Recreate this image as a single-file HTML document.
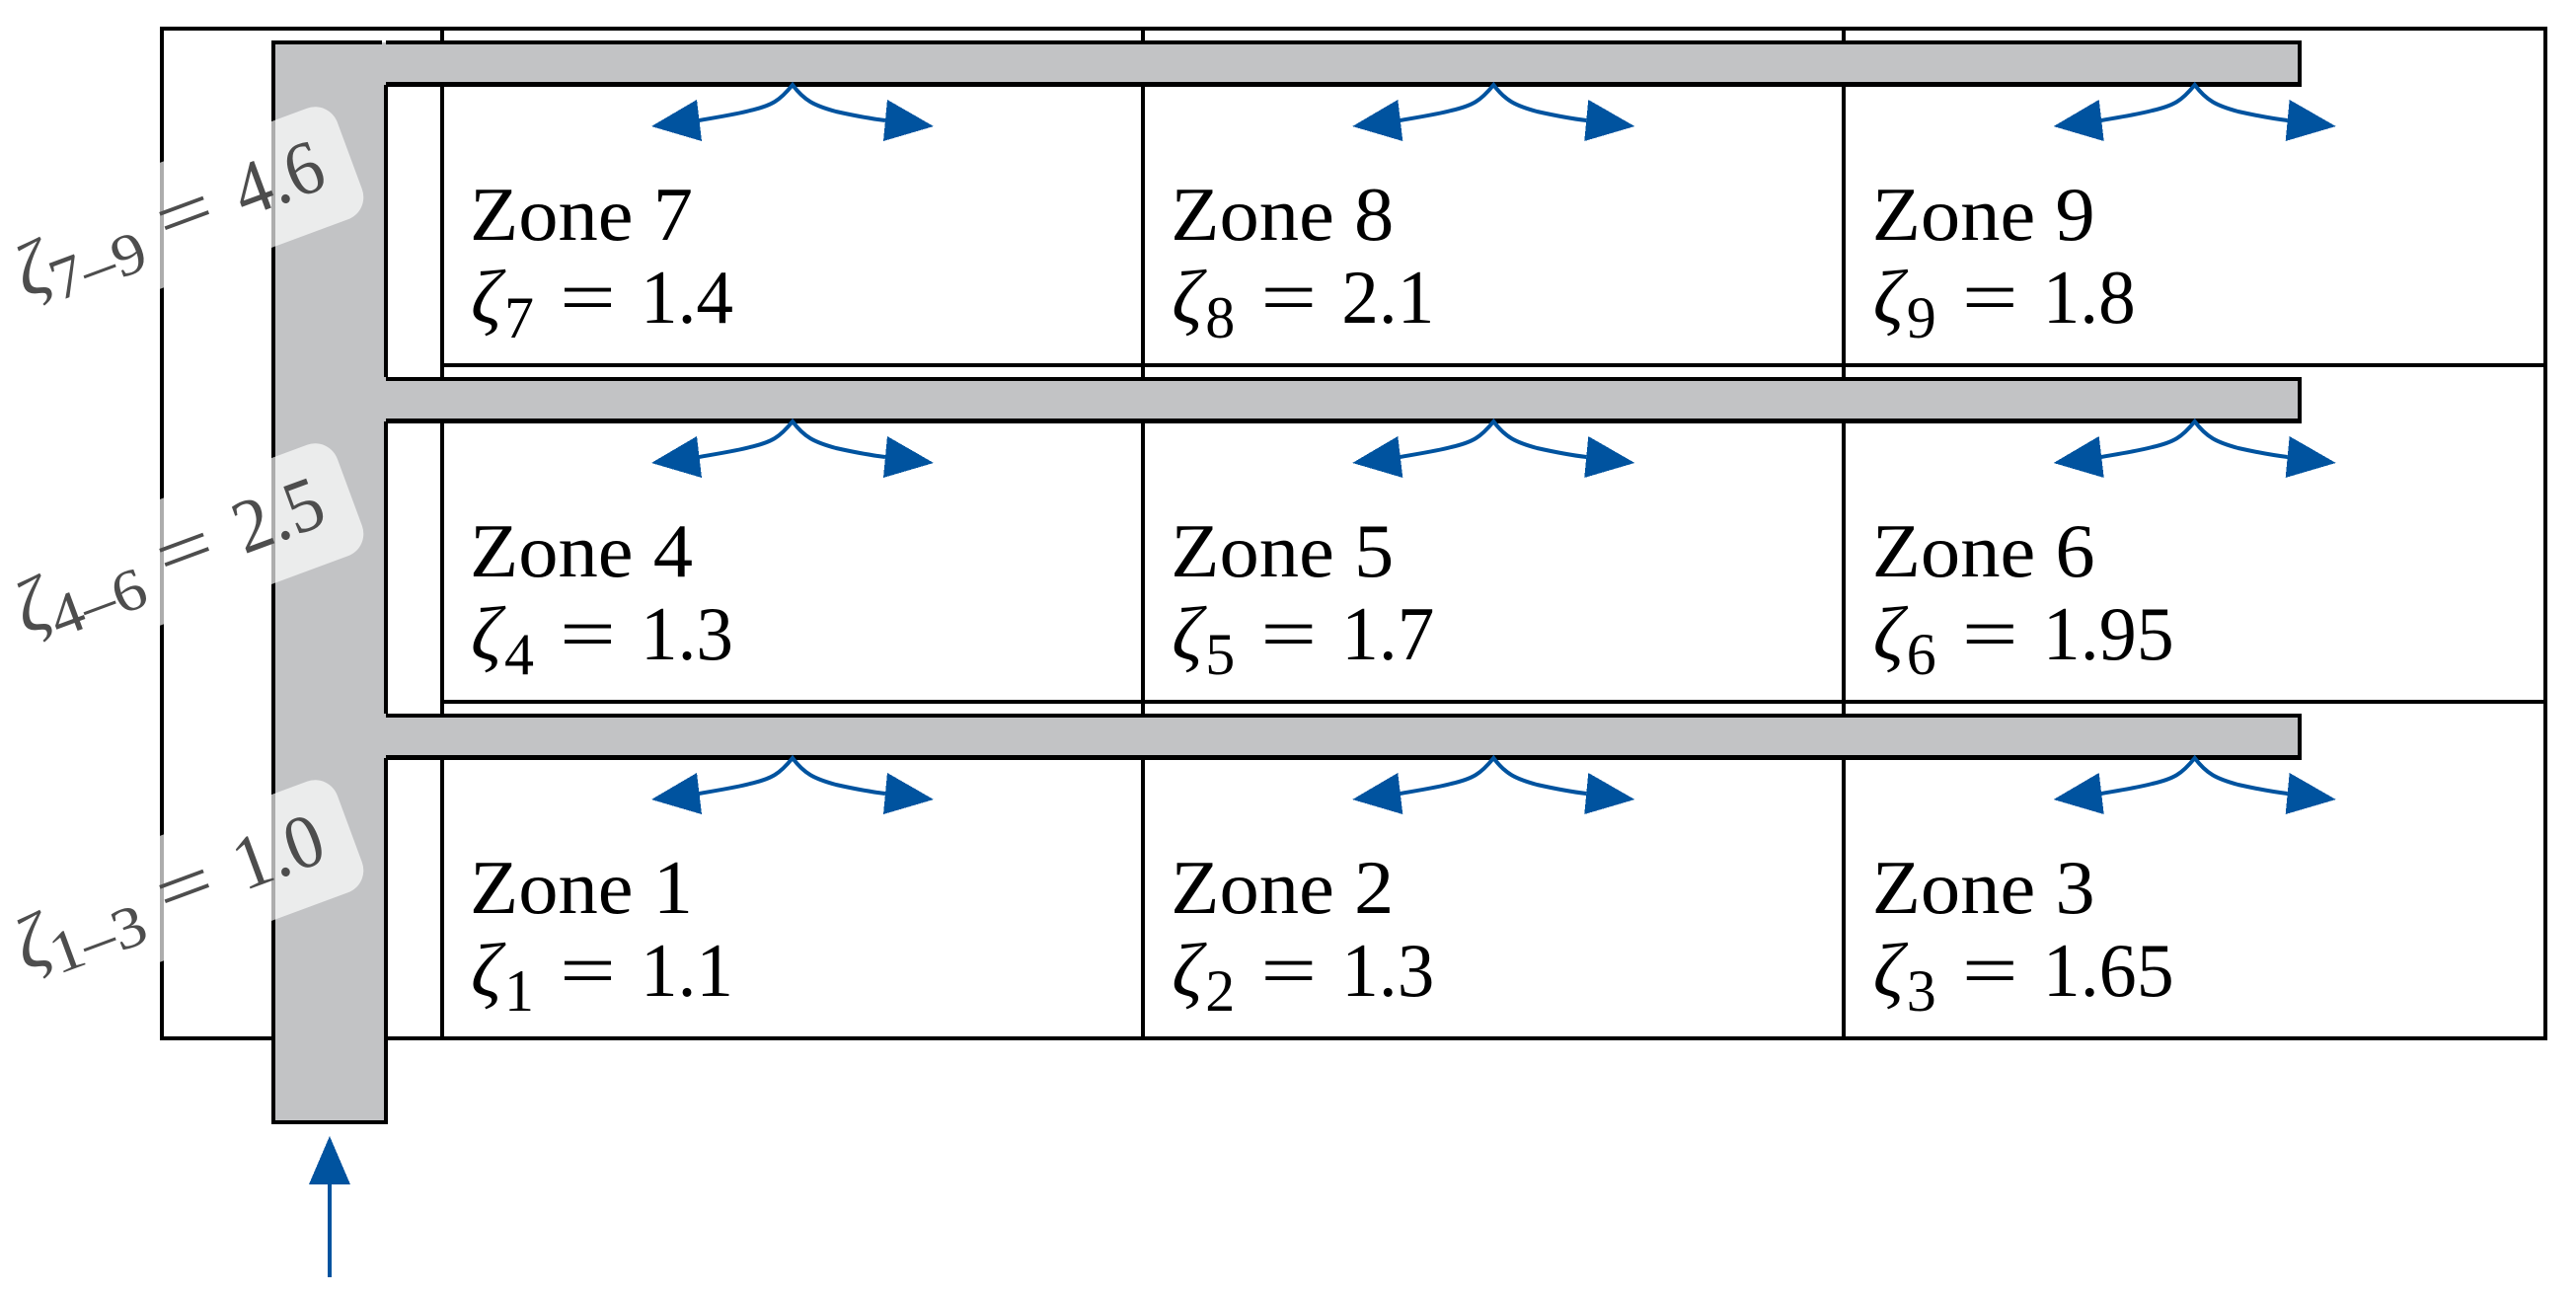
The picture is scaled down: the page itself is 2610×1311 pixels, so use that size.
<!DOCTYPE html>
<html><head><meta charset="utf-8"><style>
html,body{margin:0;padding:0;background:#fff}
svg{display:block}
text{font-family:"Liberation Serif",serif;font-size:77px;fill:#000}
.g{font-style:italic}
.s{font-size:60px}
.l text{fill:#4d4d4d}
.c{shape-rendering:crispEdges}
</style></head><body>
<svg width="2610" height="1311" viewBox="0 0 2610 1311" xmlns="http://www.w3.org/2000/svg">
<defs>
<g id="a">
<path d="M708 122C725 119 745 116 760 112C782 107 790 102 803 86C815 102 825 107 847 113C865 117 880 120 897 122" fill="none" stroke="#00539f" stroke-width="4"/>
<polygon class="c" points="660,128 706,101 711,143" fill="#00539f"/>
<polygon class="c" points="946,128 899,101 895,143" fill="#00539f"/>
</g>
</defs>
<g class="c" fill="#000">
<rect x="162" y="27" width="2419" height="4"/>
<rect x="162" y="1050" width="2419" height="4"/>
<rect x="162" y="27" width="4" height="1027"/>
<rect x="2577" y="27" width="4" height="1027"/>
<rect x="446" y="27" width="4" height="1027"/>
<rect x="1156" y="27" width="4" height="1027"/>
<rect x="1866" y="27" width="4" height="1027"/>
<rect x="448" y="368" width="2133" height="4"/>
<rect x="448" y="709" width="2133" height="4"/>
<path fill="#c2c3c5" d="M277 1137V43H2330V85H391V384H2330V426H391V725H2330V767H391V1137Z"/>
<rect x="275" y="41" width="112" height="4"/>
<rect x="391" y="41" width="1941" height="4"/>
<rect x="391" y="83" width="1941" height="5"/>
<rect x="391" y="382" width="1941" height="4"/>
<rect x="391" y="424" width="1941" height="5"/>
<rect x="391" y="723" width="1941" height="4"/>
<rect x="391" y="765" width="1941" height="5"/>
<rect x="275" y="41" width="4" height="1098"/>
<rect x="275" y="1135" width="118" height="4"/>
<rect x="389" y="86" width="4" height="296"/>
<rect x="389" y="427" width="4" height="296"/>
<rect x="389" y="768" width="4" height="371"/>
<rect x="2328" y="41" width="4" height="47"/>
<rect x="2328" y="382" width="4" height="47"/>
<rect x="2328" y="723" width="4" height="47"/>
</g>
<use href="#a"/>
<use href="#a" x="710.3"/>
<use href="#a" x="1420.7"/>
<use href="#a" y="341"/>
<use href="#a" x="710.3" y="341"/>
<use href="#a" x="1420.7" y="341"/>
<use href="#a" y="682"/>
<use href="#a" x="710.3" y="682"/>
<use href="#a" x="1420.7" y="682"/>
<polygon class="c" points="334,1151 313,1200 355,1200" fill="#00539f"/>
<rect class="c" x="332" y="1199" width="4" height="95" fill="#00539f"/>

<g transform="translate(0,0)">
<text x="476" y="243" textLength="226" lengthAdjust="spacingAndGlyphs">Zone 7</text><text class="g" x="477" y="327">ζ</text><text class="s" x="511" y="342">7</text><text x="567" y="327" textLength="57" lengthAdjust="spacingAndGlyphs">=</text><text x="649" y="327" textLength="94" lengthAdjust="spacingAndGlyphs">1.4</text>
</g>
<g transform="translate(710.3,0)">
<text x="476" y="243" textLength="226" lengthAdjust="spacingAndGlyphs">Zone 8</text><text class="g" x="477" y="327">ζ</text><text class="s" x="511" y="342">8</text><text x="567" y="327" textLength="57" lengthAdjust="spacingAndGlyphs">=</text><text x="649" y="327" textLength="94" lengthAdjust="spacingAndGlyphs">2.1</text>
</g>
<g transform="translate(1420.7,0)">
<text x="476" y="243" textLength="226" lengthAdjust="spacingAndGlyphs">Zone 9</text><text class="g" x="477" y="327">ζ</text><text class="s" x="511" y="342">9</text><text x="567" y="327" textLength="57" lengthAdjust="spacingAndGlyphs">=</text><text x="649" y="327" textLength="94" lengthAdjust="spacingAndGlyphs">1.8</text>
</g>
<g transform="translate(0,341)">
<text x="476" y="243" textLength="226" lengthAdjust="spacingAndGlyphs">Zone 4</text><text class="g" x="477" y="327">ζ</text><text class="s" x="511" y="342">4</text><text x="567" y="327" textLength="57" lengthAdjust="spacingAndGlyphs">=</text><text x="649" y="327" textLength="94" lengthAdjust="spacingAndGlyphs">1.3</text>
</g>
<g transform="translate(710.3,341)">
<text x="476" y="243" textLength="226" lengthAdjust="spacingAndGlyphs">Zone 5</text><text class="g" x="477" y="327">ζ</text><text class="s" x="511" y="342">5</text><text x="567" y="327" textLength="57" lengthAdjust="spacingAndGlyphs">=</text><text x="649" y="327" textLength="94" lengthAdjust="spacingAndGlyphs">1.7</text>
</g>
<g transform="translate(1420.7,341)">
<text x="476" y="243" textLength="226" lengthAdjust="spacingAndGlyphs">Zone 6</text><text class="g" x="477" y="327">ζ</text><text class="s" x="511" y="342">6</text><text x="567" y="327" textLength="57" lengthAdjust="spacingAndGlyphs">=</text><text x="649" y="327" textLength="133" lengthAdjust="spacingAndGlyphs">1.95</text>
</g>
<g transform="translate(0,682)">
<text x="476" y="243" textLength="226" lengthAdjust="spacingAndGlyphs">Zone 1</text><text class="g" x="477" y="327">ζ</text><text class="s" x="511" y="342">1</text><text x="567" y="327" textLength="57" lengthAdjust="spacingAndGlyphs">=</text><text x="649" y="327" textLength="94" lengthAdjust="spacingAndGlyphs">1.1</text>
</g>
<g transform="translate(710.3,682)">
<text x="476" y="243" textLength="226" lengthAdjust="spacingAndGlyphs">Zone 2</text><text class="g" x="477" y="327">ζ</text><text class="s" x="511" y="342">2</text><text x="567" y="327" textLength="57" lengthAdjust="spacingAndGlyphs">=</text><text x="649" y="327" textLength="94" lengthAdjust="spacingAndGlyphs">1.3</text>
</g>
<g transform="translate(1420.7,682)">
<text x="476" y="243" textLength="226" lengthAdjust="spacingAndGlyphs">Zone 3</text><text class="g" x="477" y="327">ζ</text><text class="s" x="511" y="342">3</text><text x="567" y="327" textLength="57" lengthAdjust="spacingAndGlyphs">=</text><text x="649" y="327" textLength="133" lengthAdjust="spacingAndGlyphs">1.65</text>
</g>

<g class="l" transform="translate(354.3,157.7) rotate(-20.3)">
<rect x="-420" y="-60" width="420" height="120" rx="24" fill="#fff" fill-opacity=".68"/>
<g transform="translate(-358,22)"><text class="g" x="0" y="0">ζ</text><text class="s" x="30" y="14" textLength="100" lengthAdjust="spacingAndGlyphs">7–9</text><text x="152" y="0" textLength="57" lengthAdjust="spacingAndGlyphs">=</text><text x="236" y="0" textLength="92" lengthAdjust="spacingAndGlyphs">4.6</text></g>
</g>
<g class="l" transform="translate(354.3,498.7) rotate(-20.3)">
<rect x="-420" y="-60" width="420" height="120" rx="24" fill="#fff" fill-opacity=".68"/>
<g transform="translate(-358,22)"><text class="g" x="0" y="0">ζ</text><text class="s" x="30" y="14" textLength="100" lengthAdjust="spacingAndGlyphs">4–6</text><text x="152" y="0" textLength="57" lengthAdjust="spacingAndGlyphs">=</text><text x="236" y="0" textLength="92" lengthAdjust="spacingAndGlyphs">2.5</text></g>
</g>
<g class="l" transform="translate(354.3,839.7) rotate(-20.3)">
<rect x="-420" y="-60" width="420" height="120" rx="24" fill="#fff" fill-opacity=".68"/>
<g transform="translate(-358,22)"><text class="g" x="0" y="0">ζ</text><text class="s" x="30" y="14" textLength="100" lengthAdjust="spacingAndGlyphs">1–3</text><text x="152" y="0" textLength="57" lengthAdjust="spacingAndGlyphs">=</text><text x="236" y="0" textLength="92" lengthAdjust="spacingAndGlyphs">1.0</text></g>
</g>
</svg>
</body></html>
